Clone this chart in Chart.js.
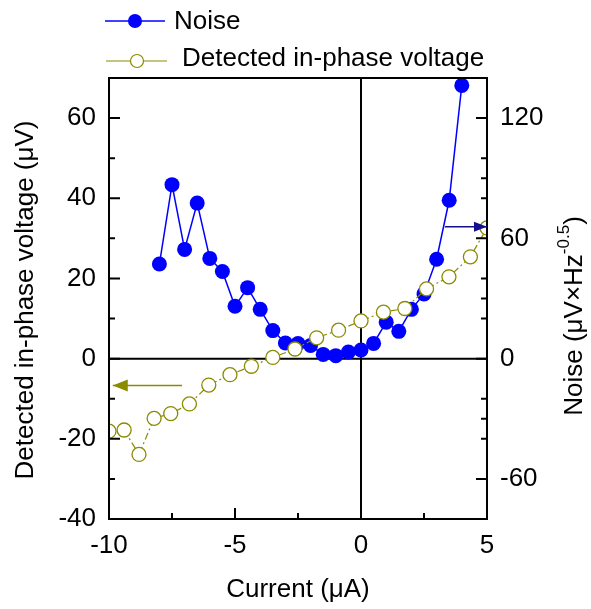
<!DOCTYPE html>
<html>
<head>
<meta charset="utf-8">
<script src="https://cdn.jsdelivr.net/npm/chart.js@4.4.1/dist/chart.umd.min.js"></script>
<style>
  html, body { margin: 0; padding: 0; background: #fff; }
</style>
</head>
<body>
<canvas id="myChart" width="591" height="609"></canvas>
<script>
// noise spectrum density vs bias current (right axis)
const noiseCurrent = [-8, -7.5, -7, -6.5, -6, -5.5, -5, -4.5, -4, -3.5, -3, -2.5, -2,
  -1.5, -1, -0.5, 0, 0.5, 1, 1.5, 2, 2.5, 3, 3.5, 4];
const noiseValues = [47.2, 86.8, 54.5, 77.6, 50.0, 43.5, 26.1, 35.4, 24.6, 14.0, 7.8, 7.5, 6.6,
  2.1, 1.5, 3.3, 4.3, 7.6, 18.2, 13.6, 24.6, 32.3, 49.6, 79.0, 136.3];

// lock-in in-phase signal vs bias current (left axis)
const phaseCurrent = [-10, -9.4, -8.81, -8.21, -7.55, -6.81, -6.04, -5.2, -4.35, -3.5,
  -2.62, -1.76, -0.89, 0, 0.89, 1.74, 2.6, 3.49, 4.34, 5];
const phaseVoltage = [-18.1, -17.8, -23.9, -14.9, -13.7, -11.3, -6.6, -4.0, -1.9, 0.3,
  2.4, 5.2, 7.1, 9.4, 11.6, 12.5, 17.4, 20.4, 25.4, 32.6];

const xTicks = [-10, -5, 0, 5];
const xMinorTicks = [-7.5, -2.5, 2.5];
const leftTicks = [-40, -20, 0, 20, 40, 60];
const leftMinorTicks = [-30, -10, 10, 30, 50];
const rightTicks = [-60, 0, 60, 120];
const rightMinorTicks = [-40, -30, -20, 20, 30, 40, 80, 90, 100];

// arrows pointing each curve to its axis: [x from, x to, y]
const noiseArrow = [3.33, 5, 65.8];
const phaseArrow = [-7.1, -9.85, -6.7];

const BLUE = "#0000ff";
const OLIVE = "#8b8b00";
const NAVY = "#101090";
const FONT = '"Liberation Sans", Arial, sans-serif';

Chart.defaults.font.family = FONT;
Chart.defaults.font.size = 26;
Chart.defaults.color = "#000";

const frame = {
  id: "frame",
  beforeDatasetsDraw(chart) {
    const { ctx, chartArea: a, scales } = chart;
    const x0 = scales.x.getPixelForValue(0);
    const y0 = scales.y.getPixelForValue(0);
    ctx.save();
    ctx.strokeStyle = "#000";
    ctx.lineWidth = 2;
    ctx.beginPath();
    ctx.moveTo(x0, a.top);
    ctx.lineTo(x0, a.bottom);
    ctx.moveTo(a.left, y0);
    ctx.lineTo(a.right, y0);
    ctx.stroke();
    ctx.restore();
  },
  afterDatasetsDraw(chart) {
    const { ctx, chartArea: a, scales } = chart;
    ctx.save();
    ctx.strokeStyle = "#000";
    ctx.lineWidth = 2;
    ctx.strokeRect(a.left, a.top, a.right - a.left, a.bottom - a.top);

    ctx.beginPath();
    const tick = (vals, len, fn) => vals.forEach((v) => fn(v, len));
    const bottom = (v, len) => {
      const p = scales.x.getPixelForValue(v);
      ctx.moveTo(p, a.bottom);
      ctx.lineTo(p, a.bottom - len);
    };
    const left = (v, len) => {
      const p = scales.y.getPixelForValue(v);
      ctx.moveTo(a.left, p);
      ctx.lineTo(a.left + len, p);
    };
    const right = (v, len) => {
      const p = scales.y2.getPixelForValue(v);
      ctx.moveTo(a.right, p);
      ctx.lineTo(a.right - len, p);
    };
    tick(xTicks, 11, bottom);
    tick(xMinorTicks, 6, bottom);
    tick(leftTicks, 11, left);
    tick(leftMinorTicks, 6, left);
    tick(rightTicks, 11, right);
    tick(rightMinorTicks, 6, right);
    ctx.stroke();

    // arrows
    const arrow = (xs, ys, xe, color, head, half) => {
      ctx.strokeStyle = color;
      ctx.fillStyle = color;
      ctx.lineWidth = 1.5;
      ctx.beginPath();
      ctx.moveTo(xs, ys);
      ctx.lineTo(xe, ys);
      ctx.stroke();
      const dir = xe > xs ? 1 : -1;
      ctx.beginPath();
      ctx.moveTo(xe, ys);
      ctx.lineTo(xe - dir * head, ys - half);
      ctx.lineTo(xe - dir * head, ys + half);
      ctx.closePath();
      ctx.fill();
    };
    arrow(scales.x.getPixelForValue(noiseArrow[0]), scales.y2.getPixelForValue(noiseArrow[2]),
      scales.x.getPixelForValue(noiseArrow[1]), NAVY, 13, 5);
    arrow(scales.x.getPixelForValue(phaseArrow[0]), scales.y.getPixelForValue(phaseArrow[2]),
      scales.x.getPixelForValue(phaseArrow[1]), OLIVE, 15, 6);
    ctx.restore();
  },
  afterDraw(chart) {
    const { ctx, chartArea: a } = chart;
    ctx.save();
    ctx.fillStyle = "#000";
    ctx.font = "26px " + FONT;

    // legend
    ctx.textBaseline = "alphabetic";
    ctx.textAlign = "left";
    ctx.strokeStyle = BLUE;
    ctx.lineWidth = 1.5;
    ctx.beginPath();
    ctx.moveTo(105, 21);
    ctx.lineTo(165, 21);
    ctx.stroke();
    ctx.fillStyle = BLUE;
    ctx.beginPath();
    ctx.arc(135, 21, 7, 0, Math.PI * 2);
    ctx.fill();
    ctx.fillStyle = "#000";
    ctx.fillText("Noise", 174, 29);

    ctx.strokeStyle = OLIVE;
    ctx.lineWidth = 1.2;
    ctx.beginPath();
    ctx.moveTo(106, 61);
    ctx.lineTo(167, 61);
    ctx.stroke();
    ctx.fillStyle = "#fff";
    ctx.beginPath();
    ctx.arc(137, 61, 6.5, 0, Math.PI * 2);
    ctx.fill();
    ctx.stroke();
    ctx.fillStyle = "#000";
    ctx.fillText("Detected in-phase voltage", 182, 66);

    // axis titles
    ctx.textAlign = "center";
    ctx.textBaseline = "middle";
    ctx.fillText("Current (\u03bcA)", (a.left + a.right) / 2, 590);

    ctx.save();
    ctx.translate(26, 300);
    ctx.rotate(-Math.PI / 2);
    ctx.fillText("Detected in-phase voltage (\u03bcV)", 0, 0);
    ctx.restore();

    ctx.save();
    ctx.translate(575, 316);
    ctx.rotate(-Math.PI / 2);
    ctx.textAlign = "left";
    const big = "26px " + FONT;
    const small = "17px " + FONT;
    ctx.font = big;
    const w1 = ctx.measureText("Noise (\u03bcV\u00d7Hz").width;
    const w3 = ctx.measureText(")").width;
    ctx.font = small;
    const w2 = ctx.measureText("-0.5").width;
    let x = -(w1 + w2 + w3) / 2;
    ctx.font = big;
    ctx.fillText("Noise (\u03bcV\u00d7Hz", x, 0);
    x += w1;
    ctx.font = small;
    ctx.fillText("-0.5", x, -11);
    x += w2;
    ctx.font = big;
    ctx.fillText(")", x, 0);
    ctx.restore();

    ctx.restore();
  },
};

const myChart = document.getElementById("myChart").getContext("2d");

const noiseChart = new Chart(myChart, {
  type: "line",
  data: {
    datasets: [
      {
        label: "Detected in-phase voltage",
        data: phaseCurrent.map((c, i) => ({ x: c, y: phaseVoltage[i] })),
        yAxisID: "y",
        borderColor: OLIVE,
        borderWidth: 1.2,
        borderDash: [7, 3, 2, 3],
        pointStyle: "circle",
        pointRadius: 7,
        pointBorderWidth: 1.3,
        pointBorderColor: OLIVE,
        pointBackgroundColor: "#fff",
        tension: 0,
        clip: 0,
      },
      {
        label: "Noise",
        data: noiseCurrent.map((c, i) => ({ x: c, y: noiseValues[i] })),
        yAxisID: "y2",
        borderColor: BLUE,
        borderWidth: 1.5,
        pointStyle: "circle",
        pointRadius: 7.5,
        pointBorderWidth: 0,
        pointBackgroundColor: BLUE,
        tension: 0,
        clip: 0,
      },
    ],
  },
  options: {
    responsive: false,
    animation: false,
    layout: { padding: { top: 78, left: 0, right: 0, bottom: 0 } },
    plugins: {
      legend: { display: false },
      tooltip: { enabled: false },
    },
    scales: {
      x: {
        type: "linear",
        min: -10,
        max: 5,
        grid: { display: false, drawTicks: false },
        border: { display: false },
        ticks: { stepSize: 5, padding: 11, maxRotation: 0, autoSkip: false },
        afterFit: (s) => { s.height = 90; },
      },
      y: {
        position: "left",
        min: -40,
        max: 70,
        grid: { display: false, drawTicks: false },
        border: { display: false },
        ticks: {
          stepSize: 10,
          padding: 13,
          autoSkip: false,
          callback: (v) => (leftTicks.includes(v) ? v : ""),
        },
        afterFit: (s) => { s.width = 109; },
      },
      y2: {
        position: "right",
        min: -80,
        max: 140,
        grid: { display: false, drawTicks: false },
        border: { display: false },
        ticks: {
          stepSize: 60,
          padding: 13,
          autoSkip: false,
          callback: (v) => (rightTicks.includes(v) ? v : ""),
        },
        afterFit: (s) => { s.width = 104; },
      },
    },
  },
  plugins: [frame],
});
</script>
</body>
</html>
